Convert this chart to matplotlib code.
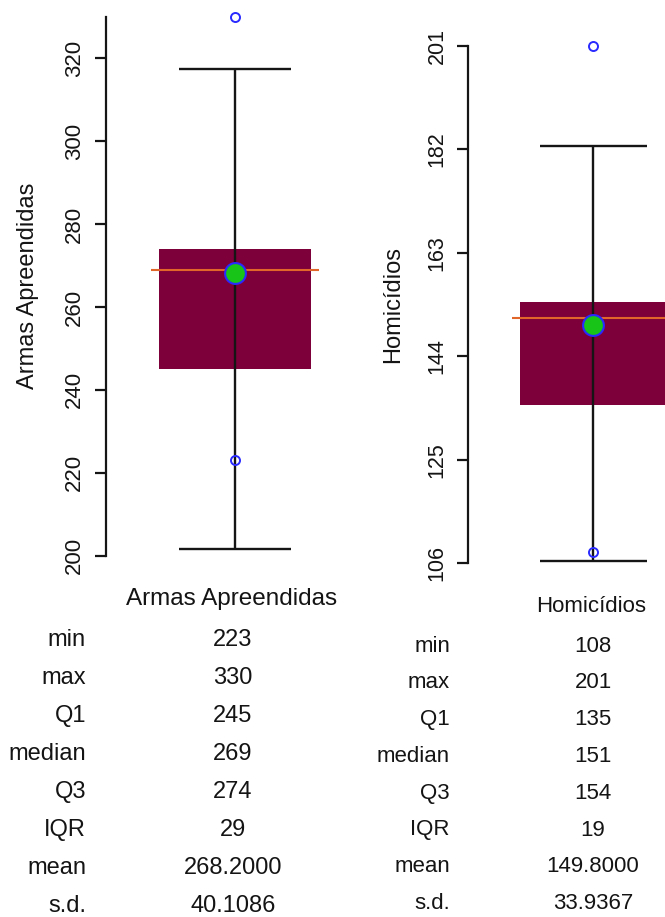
import matplotlib
matplotlib.use('Agg')
import matplotlib.pyplot as plt

# ---------------- data ----------------
variables = ['Armas Apreendidas', 'Homicídios']
stat_min = [223, 108]
stat_max = [330, 201]
q1 = [245, 135]
median = [269, 151]
q3 = [274, 154]
iqr = [29, 19]
mean = [268.2, 149.8]
sd = [40.1086, 33.9367]
whisker_low = [201.5, 106.5]
whisker_high = [317.5, 182.5]
yticks_left = [200, 220, 240, 260, 280, 300, 320]
yticks_right = [106, 125, 144, 163, 182, 201]
yticks = [yticks_left, yticks_right]
ylims = [(200, 330), (106, 201)]
stat_names = ['min', 'max', 'Q1', 'median', 'Q3', 'IQR', 'mean', 's.d.']

# ---------------- style / layout ----------------
W, H, DPI = 665, 917, 100
plt.rcParams['font.family'] = ['Liberation Sans', 'DejaVu Sans']
TXT = '#141414'
BOX = '#7d003a'
ORANGE = '#e0662a'
GREEN = '#17c417'
BLUE = '#2a2aff'
LINE = '#151515'

fig = plt.figure(figsize=(W / DPI, H / DPI), dpi=DPI)
fig.patch.set_facecolor('white')


def fx(px):
    return px / W


def fy(py):
    return 1 - py / H


panels = [
    dict(spine=105.7, center=235.0, ybot=555.7, ytop=16.9, tick_fs=16,
         ylab_x=28, ylab_fs=17, xlab_x=231.5, xlab_y=605, xlab_fs=17.5,
         tab_lab_x=86, tab_val_x=233, tab_y0=646.5, tab_dy=37.9, tab_fs=17),
    dict(spine=468.3, center=593.3, ybot=563.3, ytop=45.7, tick_fs=15.5,
         ylab_x=393, ylab_fs=17, xlab_x=591, xlab_y=612, xlab_fs=16,
         tab_lab_x=450, tab_val_x=593, tab_y0=651.5, tab_dy=36.8, tab_fs=16),
]

for i, p in enumerate(panels):
    ax = fig.add_axes([fx(p['spine']), fy(p['ybot']),
                       2 * (p['center'] - p['spine']) / W,
                       (p['ybot'] - p['ytop']) / H])
    ax.set_xlim(-1, 1)
    ax.set_ylim(*ylims[i])
    ax.patch.set_alpha(0)
    for s in ['top', 'right', 'bottom']:
        ax.spines[s].set_visible(False)
    ax.spines['left'].set_color(LINE)
    ax.spines['left'].set_linewidth(1.6)
    ax.set_xticks([])
    ax.set_yticks(yticks[i])
    ax.set_yticklabels([str(t) for t in yticks[i]])
    ax.tick_params(axis='y', length=8, width=1.6, color=LINE, pad=7,
                   labelsize=p['tick_fs'], labelcolor=TXT, labelrotation=90)
    for lab in ax.get_yticklabels():
        lab.set_va('center')
        lab.set_ha('right')

    # box
    ax.bar(0, q3[i] - q1[i], bottom=q1[i], width=1.18, color=BOX,
           linewidth=0, zorder=1, clip_on=False)
    # whisker
    ax.vlines(0, whisker_low[i], whisker_high[i], color=LINE, lw=1.7, zorder=2)
    ax.hlines([whisker_low[i], whisker_high[i]], -0.43, 0.43, color=LINE,
              lw=1.7, zorder=2)
    # median
    ax.hlines(median[i], -0.65, 0.65, color=ORANGE, lw=1.5, zorder=3,
              clip_on=False)
    # mean
    ax.plot([0], [mean[i]], 'o', ms=15, mfc=GREEN, mec=BLUE, mew=1.5,
            zorder=4, clip_on=False)
    # min / max
    ax.plot([0, 0], [stat_min[i], stat_max[i]], 'o', ms=6.5, mfc='none',
            mec=BLUE, mew=1.4, zorder=5, clip_on=False, linestyle='none')

    # y label
    fig.text(fx(p['ylab_x']), fy((p['ybot'] + p['ytop']) / 2), variables[i],
             rotation=90, ha='center', va='center', fontsize=p['ylab_fs'],
             color=TXT)
    # x label
    fig.text(fx(p['xlab_x']), fy(p['xlab_y']), variables[i], ha='center',
             va='baseline', fontsize=p['xlab_fs'], color=TXT)

    # stats table
    values = [str(stat_min[i]), str(stat_max[i]), str(q1[i]), str(median[i]),
              str(q3[i]), str(iqr[i]), '%.4f' % mean[i], '%.4f' % sd[i]]
    for k, (name, val) in enumerate(zip(stat_names, values)):
        yb = p['tab_y0'] + k * p['tab_dy']
        fig.text(fx(p['tab_lab_x']), fy(yb), name, ha='right', va='baseline',
                 fontsize=p['tab_fs'], color=TXT)
        fig.text(fx(p['tab_val_x']), fy(yb), val, ha='center', va='baseline',
                 fontsize=p['tab_fs'], color=TXT)

fig.savefig('out.png', dpi=DPI, facecolor='white')
